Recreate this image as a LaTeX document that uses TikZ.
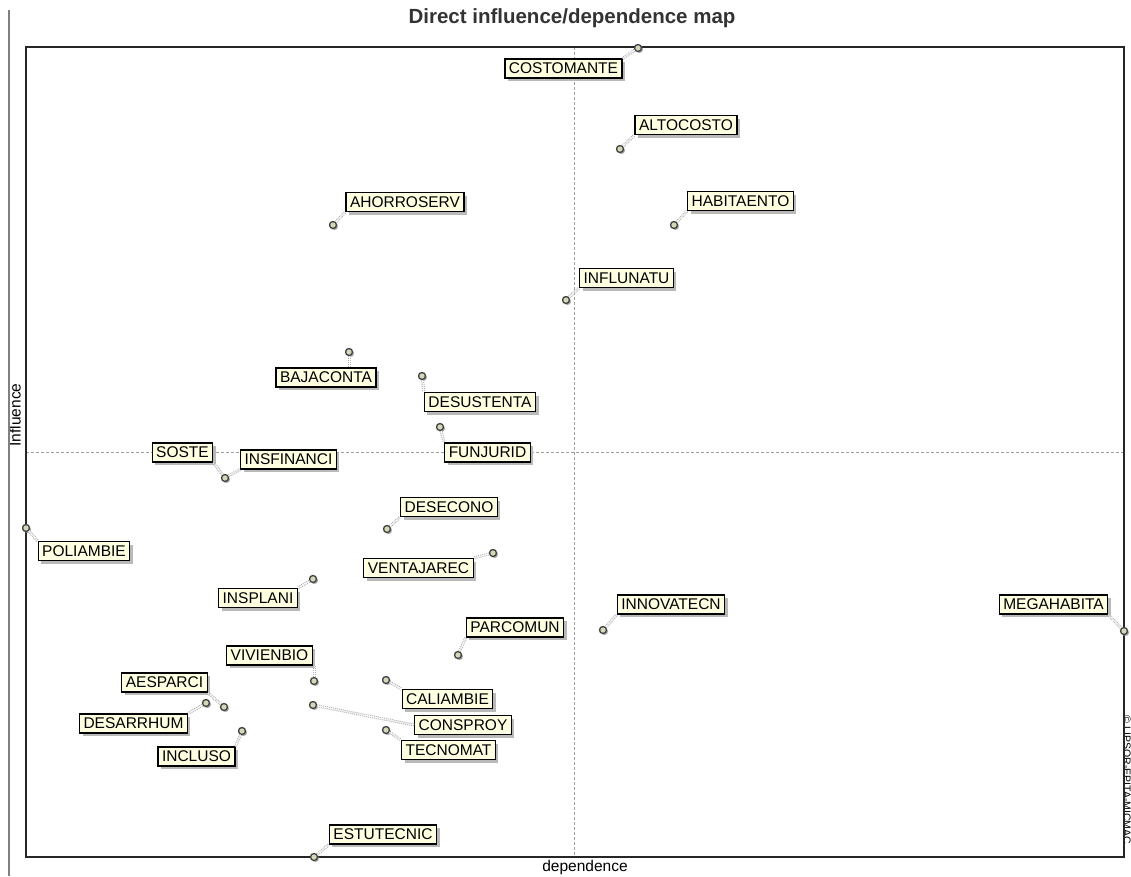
\documentclass[tikz,border=0pt]{standalone}
\usepackage{fontspec}
\setmainfont{Liberation Sans}
\usetikzlibrary{shadows}
\definecolor{labfill}{HTML}{FFFFE1}
\definecolor{ptfill}{HTML}{D6D6B8}
\definecolor{ptring}{HTML}{404040}
\newcommand{\lbfont}{\fontsize{15.5}{16}\selectfont}
\tikzset{
  lab/.style={draw=black, line width=1.2pt, fill=labfill, inner xsep=4pt, inner ysep=0pt,
    minimum height=19pt, font=\lbfont,
    drop shadow={shadow xshift=3pt, shadow yshift=-3pt, fill=gray!55, opacity=1}},
  pt/.style={circle, draw=ptring, line width=1.3pt, fill=ptfill, inner sep=0pt, minimum size=7pt,
    drop shadow={shadow xshift=1.5pt, shadow yshift=-1.5pt, fill=gray!70, opacity=1}},
  lnk/.style={gray!60, densely dotted, line width=1pt, double distance=1pt},
  axis/.style={gray!75, dash pattern=on 3pt off 2pt, line width=0.8pt}
}
\begin{document}
\begin{tikzpicture}[x=1pt,y=-1pt]
\useasboundingbox (0,0) rectangle (1131,876);

%\draw[step=50,gray!20,very thin] (0,0) grid (1131,876); %background grid

% title and axis names
\node[font=\fontsize{20.5}{21}\selectfont\bfseries, text=black!80] (title) at (572,18) {Direct influence/dependence map};
\node[font=\lbfont, rotate=90] (infl) at (15,415) {Influence};
\node[font=\lbfont] (dep) at (585,867) {dependence};
\node[font=\fontsize{10.5}{11}\selectfont, rotate=-90] (copy) at (1127,780) {\textcopyright\ LIPSOR-EPITA-MICMAC};

\draw[gray, line width=1.2pt] (9,10) -- (9,876);
\draw[axis] (574,47) -- (574,857); %dependence mean
\draw[axis] (26,452) -- (1124,452); %influence mean
\draw[black!85, line width=1.4pt] (26,47) rectangle (1124,857);

%upper right
\node[pt] (p1) at (638,48) {};
\node[lab] (l1) at (563.5,68.5) {COSTOMANTE};
\draw[lnk] (p1) -- (l1.north east);
\node[pt] (p2) at (620,149) {};
\node[lab] (l2) at (686,125) {ALTOCOSTO};
\draw[lnk] (p2) -- (l2.south west);
\node[pt] (p3) at (674,225) {};
\node[lab] (l3) at (740.5,201) {HABITAENTO};
\draw[lnk] (p3) -- (l3.south west);
\node[pt] (p5) at (566,300) {};
\node[lab] (l5) at (626.5,278) {INFLUNATU};
\draw[lnk] (p5) -- (l5.south west);

%upper left
\node[pt] (p4) at (333,225) {};
\node[lab] (l4) at (405,202) {AHORROSERV};
\draw[lnk] (p4) -- (l4.south west);
\node[pt] (p6) at (349,352) {};
\node[lab] (l6) at (326,377.5) {BAJACONTA};
\draw[lnk] (p6) -- (p6 |- l6.north);
\node[pt] (p7) at (422,376) {};
\node[lab] (l7) at (480,402) {DESUSTENTA};
\draw[lnk] (p7) -- (l7.north west);
\node[pt] (p8) at (440,427) {};
\node[lab] (l8) at (487.5,452.5) {FUNJURID};
\draw[lnk] (p8) -- (l8.north west);

%lower left
\node[pt] (p9) at (225,478) {};
\node[lab] (l9) at (182.5,452.5) {SOSTE};
\node[lab] (l10) at (288.5,459.5) {INSFINANCI};
\draw[lnk] (p9) -- (l9.south east);
\draw[lnk] (p9) -- (l10.south west);
\node[pt] (p11) at (387,529) {};
\node[lab] (l11) at (449,507) {DESECONO};
\draw[lnk] (p11) -- (l11.south west);
\node[pt] (p12) at (26,528) {};
\node[lab] (l12) at (84,551) {POLIAMBIE};
\draw[lnk] (p12) -- (l12.north west);
\node[pt] (p13) at (493,553) {};
\node[lab] (l13) at (418.5,568) {VENTAJAREC};
\draw[lnk] (p13) -- (l13.north east);
\node[pt] (p14) at (313,579) {};
\node[lab] (l14) at (258,598) {INSPLANI};
\draw[lnk] (p14) -- (l14.north east);
\node[pt] (p17) at (458,655) {};
\node[lab] (l17) at (515,627.5) {PARCOMUN};
\draw[lnk] (p17) -- (l17.south west);
\node[pt] (p18) at (314,681) {};
\node[lab] (l18) at (269.5,655.5) {VIVIENBIO};
\draw[lnk] (p18) -- (p18 |- l18.south);
\node[pt] (p19) at (224,707) {};
\node[lab] (l19) at (164.5,682.5) {AESPARCI};
\draw[lnk] (p19) -- (l19.south east);
\node[pt] (p20) at (386,680) {};
\node[lab] (l20) at (447.5,699) {CALIAMBIE};
\draw[lnk] (p20) -- (l20.north west);
\node[pt] (p21) at (206,703) {};
\node[lab] (l21) at (133.5,723.5) {DESARRHUM};
\draw[lnk] (p21) -- (l21.north east);
\node[pt] (p22) at (313,705) {};
\node[lab] (l22) at (463,725) {CONSPROY};
\draw[lnk] (p22) -- (l22.west);
\node[pt] (p23) at (386,730) {};
\node[lab] (l23) at (448.5,750) {TECNOMAT};
\draw[lnk] (p23) -- (l23.north west);
\node[pt] (p24) at (242,731) {};
\node[lab] (l24) at (196.5,756.5) {INCLUSO};
\draw[lnk] (p24) -- (l24.north east);
\node[pt] (p25) at (314,857) {};
\node[lab] (l25) at (383,834.5) {ESTUTECNIC};
\draw[lnk] (p25) -- (l25.south west);

%lower right
\node[pt] (p15) at (603,630) {};
\node[lab] (l15) at (671,604.5) {INNOVATECN};
\draw[lnk] (p15) -- (l15.south west);
\node[pt] (p16) at (1124,631) {};
\node[lab] (l16) at (1053.5,604.5) {MEGAHABITA};
\draw[lnk] (p16) -- (l16.south east);

\end{tikzpicture}
\end{document}
